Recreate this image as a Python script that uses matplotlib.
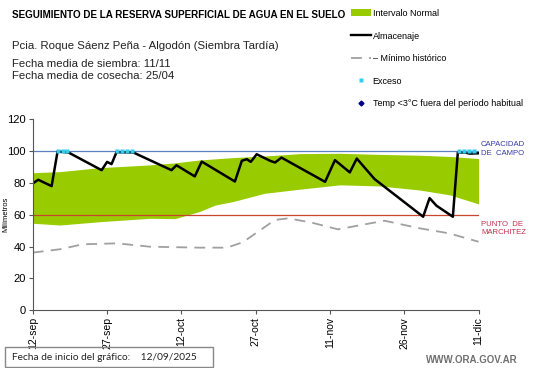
import matplotlib.pyplot as plt
from matplotlib.lines import Line2D
from matplotlib.patches import Patch, Rectangle

plt.rcParams['font.family'] = ['Liberation Sans', 'DejaVu Sans']

# dias desde 12/09/2025
tick_days = [0, 15, 30, 45, 60, 75, 90]
tick_labels = ['12-sep', '27-sep', '12-oct', '27-oct', '11-nov', '26-nov', '11-dic']

# intervalo normal
band_days = [0, 5.5, 13.6, 23.6, 28.7, 33.7, 36.8, 40.4, 46.8, 54, 62, 70, 78, 84.2, 90]
band_upper = [86.3, 87, 89.5, 91.2, 92.5, 94.3, 95, 95.8, 96.8, 98.3, 98.5, 97.8, 97.3, 96.5, 95.2]
band_lower = [54.6, 53.5, 55.6, 57.7, 57.5, 62, 66, 68.2, 73.4, 76, 78.7, 78, 75.5, 72.4, 66.7]

# almacenaje
alm_days = [0, 1.1, 3.8, 5.0, 7.2, 13.9, 15.0, 15.9, 16.9, 20.3, 28.0, 29.0, 32.7, 34.1,
            40.8, 42.2, 43.2, 44.0, 45.2, 47.9, 48.9, 50.2, 59.0, 61.0, 64.0, 65.4, 69.0,
            78.8, 80.1, 81.5, 84.8, 85.8, 87.2, 88.2, 90]
alm_vals = [79.6, 81.9, 77.9, 99.6, 99, 87.9, 93.1, 91.7, 99.2, 99, 87.9, 91, 84, 93.3,
            80.8, 93.8, 94.8, 93.1, 97.9, 93.8, 92.7, 95.8, 80.6, 94.2, 86.5, 95.2, 82.3,
            58.7, 70.4, 65.6, 58.7, 99, 99, 98.3, 98.5]

# minimo historico
min_days = [0, 5.5, 10.1, 17, 20.2, 23.6, 33.7, 39.2, 42.4, 48.9, 51.6, 56.3, 61.6, 71, 78, 84, 90]
min_vals = [36.2, 38.3, 41.4, 42, 41, 39.9, 39.3, 39.3, 42.7, 56.7, 57.7, 55, 50.8, 56.2, 51.5, 48.3, 43]

# exceso
exc_days = [5, 6, 7, 17, 18, 19, 20, 86, 87, 88, 89]
exc_vals = [100] * len(exc_days)

cap_campo = 100
punto_march = 60

fig = plt.figure(figsize=(5.41, 3.68), dpi=100)
ax = fig.add_axes([0.0606, 0.1568, 0.8241, 0.5198])

ax.fill_between(band_days, band_lower, band_upper, color='#99cc00', lw=0)
ax.axhline(cap_campo, color='#5b7fc0', lw=0.9)
ax.axhline(punto_march, color='#c8452e', lw=0.9)
ax.plot(min_days, min_vals, color='#a0a0a0', lw=1.3, dashes=(6, 4))
ax.plot(alm_days, alm_vals, color='black', lw=1.8)
ax.plot(exc_days, exc_vals, 's', color='#33ccee', ms=2.4, mec='none')

ax.set_xlim(0, 90)
ax.set_ylim(0, 120)
ax.set_yticks(range(0, 121, 20))
ax.set_xticks(tick_days)
ax.set_xticklabels(tick_labels, rotation=90, fontsize=7.5)
ax.tick_params(axis='y', labelsize=8, length=3, color='#555555', pad=2)
ax.tick_params(axis='x', length=3, color='#555555', pad=2)
for s in ['top', 'right']:
    ax.spines[s].set_visible(False)
for s in ['left', 'bottom']:
    ax.spines[s].set_color('#555555')
ax.set_ylabel('Milímetros', fontsize=5.5)
ax.yaxis.set_label_coords(-0.053, 0.5)

ax.text(90.5, 101, 'CAPACIDAD\nDE  CAMPO', color='#3a3aa8', fontsize=5.6, va='center', ha='left',
        linespacing=1.35)
ax.text(90.5, 51.3, 'PUNTO  DE\nMARCHITEZ', color='#c0304a', fontsize=5.6, va='center', ha='left',
        linespacing=1.35)

fig.text(12 / 541, 1 - 15 / 368, 'SEGUIMIENTO DE LA RESERVA SUPERFICIAL DE AGUA EN EL SUELO',
         fontsize=7.1, fontweight='bold', va='center')
fig.text(12 / 541, 1 - 46 / 368, 'Pcia. Roque Sáenz Peña - Algodón (Siembra Tardía)',
         fontsize=8.2, va='center', color='#222222')
fig.text(12 / 541, 1 - 70 / 368, 'Fecha media de siembra: 11/11\nFecha media de cosecha: 25/04',
         fontsize=8.2, va='center', color='#222222', linespacing=1.2)

handles = [Patch(facecolor='#99cc00', edgecolor='none'),
           Line2D([], [], color='black', lw=1.7),
           Line2D([], [], color='#a0a0a0', lw=1.3, dashes=(6, 4)),
           Line2D([], [], ls='none', marker='s', color='#33ccee', ms=2.2, mec='none'),
           Line2D([], [], ls='none', marker='D', color='#000080', ms=2.5)]
labels = ['Intervalo Normal', 'Almacenaje', '– Mínimo histórico', 'Exceso',
          'Temp <3°C fuera del período habitual']
fig.legend(handles, labels, loc='upper left', bbox_to_anchor=(351 / 541, 1 - 9 / 368),
           frameon=False, fontsize=6.5, handlelength=2.2, handleheight=0.8,
           handletextpad=0.2, labelspacing=1.5, borderpad=0, borderaxespad=0)

fig.add_artist(Rectangle((5 / 541, 1 - 367 / 368), 208 / 541, 20 / 368, transform=fig.transFigure,
                         fill=False, edgecolor='#888888', lw=1))
fig.text(12 / 541, 1 - 357 / 368, 'Fecha de inicio del gráfico:    12/09/2025',
         fontsize=7.3, va='center', family=['Lato', 'DejaVu Sans'], color='#222222')
fig.text(518 / 541, 1 - 360 / 368, 'WWW.ORA.GOV.AR', fontsize=7, fontweight='bold',
         color='#707070', ha='right', va='center')

fig.savefig('out.png', dpi=100)
